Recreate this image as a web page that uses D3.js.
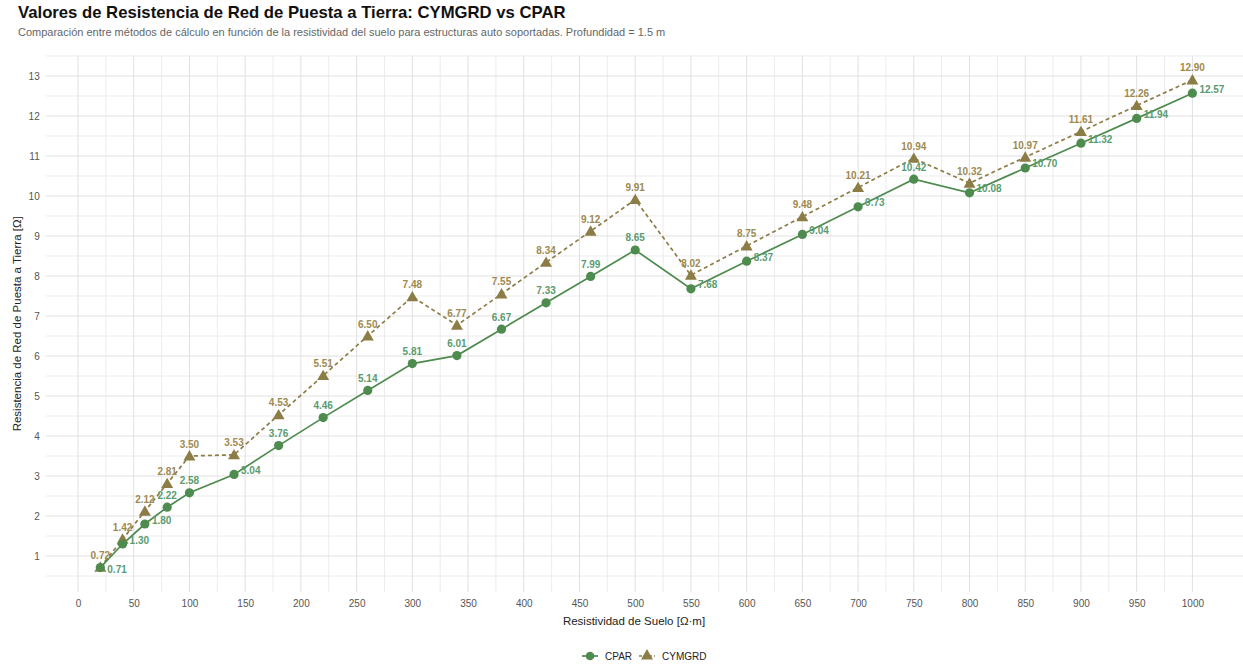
<!DOCTYPE html>
<html><head><meta charset="utf-8">
<script src="https://cdn.jsdelivr.net/npm/d3@7"></script>
<style>
body{margin:0;background:#fff}
svg text{font-family:"Liberation Sans",Arial,sans-serif}
</style>
</head><body>
<svg id="c" width="1243" height="669"></svg>
<script>
// ---------------- DATA ----------------
const resistividad = [20,40,60,80,100,140,180,220,260,300,340,380,420,460,500,550,600,650,700,750,800,850,900,950,1000];
const cpar   = [0.71,1.30,1.80,2.22,2.58,3.04,3.76,4.46,5.14,5.81,6.01,6.67,7.33,7.99,8.65,7.68,8.37,9.04,9.73,10.42,10.08,10.70,11.32,11.94,12.57];
const cymgrd = [0.72,1.42,2.12,2.81,3.50,3.53,4.53,5.51,6.50,7.48,6.77,7.55,8.34,9.12,9.91,8.02,8.75,9.48,10.21,10.94,10.32,10.97,11.61,12.26,12.90];
const seriesNames = ["CPAR","CYMGRD"];
const xTicks = d3.range(0, 1001, 50);
const yTicks = d3.range(1, 14, 1);
const titleText = "Valores de Resistencia de Red de Puesta a Tierra: CYMGRD vs CPAR";
const subtitleText = "Comparación entre métodos de cálculo en función de la resistividad del suelo para estructuras auto soportadas. Profundidad = 1.5 m";
const xTitle = "Resistividad de Suelo [Ω·m]";
const yTitle = "Resistencia de Red de Puesta a Tierra [Ω]";

// ---------------- STYLE ----------------
const colors = {CPAR:"#4E8B4F", CYMGRD:"#8C7D47"};
const labelColors = {CPAR:"#5A9B70", CYMGRD:"#9E8A4F"};
const panel = {left:45.7, right:1247, top:55.6, bottom:592};
const FONT = '"Liberation Sans",Arial,sans-serif';

const svg = d3.select("#c");

// scales with 5% expansion like ggplot
const xe = d3.extent(resistividad), xp = (xe[1]-xe[0])*0.05;
const allY = cpar.concat(cymgrd);
const ye = d3.extent(allY), yp = (ye[1]-ye[0])*0.05;
const x = d3.scaleLinear().domain([xe[0]-xp, xe[1]+xp]).range([panel.left, panel.right]);
const y = d3.scaleLinear().domain([ye[0]-yp, ye[1]+yp]).range([panel.bottom, panel.top]);

// grid
const g = svg.append("g");
const xMinor = xTicks.slice(0,-1).map((d,i)=>(d+xTicks[i+1])/2);
const yMinor = d3.range(0.5, 14, 1).filter(v=>v>=y.domain()[0] && v<=y.domain()[1]);
g.selectAll(".xmin").data(xMinor).join("line")
  .attr("x1",d=>x(d)).attr("x2",d=>x(d)).attr("y1",panel.top).attr("y2",panel.bottom)
  .attr("stroke","#ECECEC").attr("stroke-width",1);
g.selectAll(".ymin").data(yMinor).join("line")
  .attr("y1",d=>y(d)).attr("y2",d=>y(d)).attr("x1",panel.left).attr("x2",panel.right)
  .attr("stroke","#ECECEC").attr("stroke-width",1);
g.selectAll(".xmaj").data(xTicks).join("line")
  .attr("x1",d=>x(d)).attr("x2",d=>x(d)).attr("y1",panel.top).attr("y2",panel.bottom)
  .attr("stroke","#E0E0E0").attr("stroke-width",1);
g.selectAll(".ymaj").data(yTicks).join("line")
  .attr("y1",d=>y(d)).attr("y2",d=>y(d)).attr("x1",panel.left).attr("x2",panel.right)
  .attr("stroke","#E0E0E0").attr("stroke-width",1);

// axes (labels only, no lines/ticks)
const xAxis = svg.append("g").attr("transform",`translate(0,${panel.bottom})`)
  .call(d3.axisBottom(x).tickValues(xTicks).tickSize(0).tickPadding(8).tickFormat(d3.format("d")));
xAxis.select(".domain").remove();
xAxis.selectAll("text").attr("fill","#555").style("font-size","10px").style("font-family",FONT);
const yAxis = svg.append("g").attr("transform",`translate(${panel.left},0)`)
  .call(d3.axisLeft(y).tickValues(yTicks).tickSize(0).tickPadding(6).tickFormat(d3.format("d")));
yAxis.select(".domain").remove();
yAxis.selectAll("text").attr("fill","#555").style("font-size","10px").style("font-family",FONT);

// titles
svg.append("text").attr("x",18).attr("y",18).text(titleText)
  .style("font-size","16.7px").style("font-weight","bold").attr("fill","#111");
svg.append("text").attr("x",18).attr("y",36).text(subtitleText)
  .style("font-size","11px").attr("fill","#666");
svg.append("text").attr("x",634).attr("y",625).attr("text-anchor","middle").text(xTitle)
  .style("font-size","11.5px").attr("fill","#222");
svg.append("text").attr("transform",`translate(21,${(panel.top+panel.bottom)/2}) rotate(-90)`)
  .attr("text-anchor","middle").text(yTitle).style("font-size","11.5px").attr("fill","#222");

// series
const data = {
  CPAR: resistividad.map((r,i)=>({x:r, y:cpar[i]})),
  CYMGRD: resistividad.map((r,i)=>({x:r, y:cymgrd[i]}))
};
const line = d3.line().x(d=>x(d.x)).y(d=>y(d.y));
const tri = d3.symbol().type(d3.symbolTriangle).size(62);

svg.append("path").datum(data.CYMGRD).attr("d",line).attr("fill","none")
  .attr("stroke",colors.CYMGRD).attr("stroke-width",1.7).attr("stroke-dasharray","4,3");
svg.append("path").datum(data.CPAR).attr("d",line).attr("fill","none")
  .attr("stroke",colors.CPAR).attr("stroke-width",1.7);
svg.append("g").selectAll("path").data(data.CYMGRD).join("path")
  .attr("d",tri).attr("transform",d=>`translate(${x(d.x)},${y(d.y)+1})`).attr("fill",colors.CYMGRD);
svg.append("g").selectAll("circle").data(data.CPAR).join("circle")
  .attr("cx",d=>x(d.x)).attr("cy",d=>y(d.y)).attr("r",4.6).attr("fill",colors.CPAR);

// ---------------- labels with simple repel-like placement ----------------
const obstacles = [];
["CPAR","CYMGRD"].forEach(s=>data[s].forEach(d=>obstacles.push({x0:x(d.x)-5,x1:x(d.x)+5,y0:y(d.y)-4,y1:y(d.y)+4})));
const placed = [];
const overlap = (a,b)=>!(a.x1<=b.x0||a.x0>=b.x1||a.y1<=b.y0||a.y0>=b.y1);
const lblG = svg.append("g");
function placeSeries(s, candidates){
  data[s].forEach(d=>{
    const px = x(d.x), py = y(d.y);
    const t = lblG.append("text").text(d.y.toFixed(2)).attr("fill",labelColors[s])
      .style("font-size","10px").style("font-weight","bold").attr("text-anchor","middle");
    const w = t.node().getComputedTextLength(), h = 9;
    let best = null;
    for (const c of candidates){
      const cx = px + c[0](w), cy = py + c[1];
      const box = {x0:cx-w/2, x1:cx+w/2, y0:cy-h/2, y1:cy+h/2};
      const hit = placed.some(b=>overlap(box,b)) || obstacles.some(b=>overlap(box,b));
      if (!hit){ best = {cx,cy,box}; break; }
    }
    if (!best){ const c=candidates[0]; const cx=px+c[0](w), cy=py+c[1];
      best={cx,cy,box:{x0:cx-w/2,x1:cx+w/2,y0:cy-h/2,y1:cy+h/2}}; }
    placed.push(best.box);
    t.attr("x",best.cx).attr("y",best.cy+3.5);
  });
}
placeSeries("CYMGRD", [
  [w=>0, -12], [w=>-(w/2+4), -12], [w=>(w/2+4), -12], [w=>0,-20]
]);
placeSeries("CPAR", [
  [w=>0, -12], [w=>(w/2+7), -4], [w=>-(w/2+7), -7], [w=>(w/2+7), 2], [w=>-(w/2+7), 2], [w=>0, 14]
]);

// ---------------- legend ----------------
const lg = svg.append("g").attr("transform","translate(0,656)");
lg.append("line").attr("x1",582).attr("x2",598).attr("y1",0).attr("y2",0).attr("stroke",colors.CPAR).attr("stroke-width",1.7);
lg.append("circle").attr("cx",590).attr("cy",0).attr("r",4.3).attr("fill",colors.CPAR);
lg.append("text").attr("x",605).attr("y",4).text(seriesNames[0]).style("font-size","10px").attr("fill","#222");
lg.append("line").attr("x1",639).attr("x2",655).attr("y1",0).attr("y2",0).attr("stroke",colors.CYMGRD).attr("stroke-width",1.7).attr("stroke-dasharray","3,2");
lg.append("path").attr("d",tri).attr("transform","translate(647,0)").attr("fill",colors.CYMGRD);
lg.append("text").attr("x",662).attr("y",4).text(seriesNames[1]).style("font-size","10px").attr("fill","#222");
</script>
</body></html>
